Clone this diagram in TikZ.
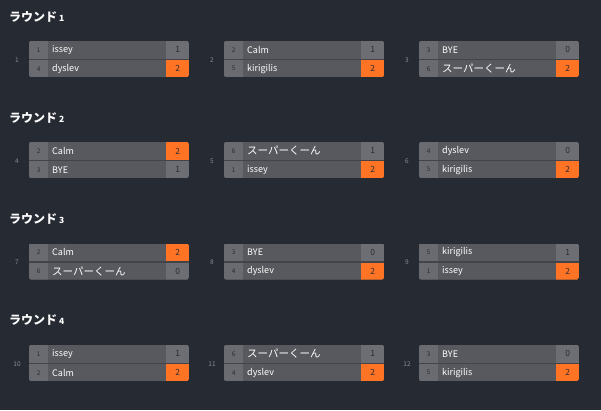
\documentclass[tikz,border=0pt]{standalone}
\usepackage{fontspec}
\usepackage{xcolor}
\setmainfont{Noto Sans CJK JP}

\definecolor{bgdark}{HTML}{262A33}
\definecolor{namegray}{HTML}{58595E}
\definecolor{seedgray}{HTML}{6A6B70}
\definecolor{scoregray}{HTML}{6D6E73}
\definecolor{rowline}{HTML}{43444A}
\definecolor{winorange}{HTML}{FF7324}
\definecolor{inkdark}{HTML}{2A2C33}
\definecolor{numgray}{HTML}{8A8C95}

\tikzset{
  cell/.style={anchor=north west, inner sep=0pt, minimum height=#1},
  seedcell/.style={cell=#1, fill=seedgray, minimum width=19pt, text=inkdark, font=\fontsize{6.5}{7}\selectfont},
  namecell/.style={cell=#1, fill=namegray, minimum width=118pt, text width=110pt, inner xsep=4pt, align=left, text=white, font=\fontsize{9}{10}\selectfont},
  scorecell/.style={cell=#1, minimum width=23pt, text=inkdark, font=\fontsize{8.5}{9}\selectfont},
  matchno/.style={text=numgray, font=\fontsize{6.5}{7}\selectfont},
  roundtitle/.style={anchor=west, inner sep=0pt, text=white, font=\bfseries\fontsize{12}{14}\selectfont}
}

\newcommand{\jp}[1]{{\fontsize{10.5}{12}\selectfont #1}}

% #1 match, #2 x, #3 y, #4-#6 upper seed/name/score, #7-#9 lower seed/name/score
\newcommand{\Match}[9]{%
  \ifnum#6>#9 \colorlet{upfill}{winorange}\colorlet{lowfill}{scoregray}%
  \else \colorlet{upfill}{scoregray}\colorlet{lowfill}{winorange}\fi
  \begin{scope}[shift={(#2,#3)}]
    \node[matchno] (m#1) at (-12,19) {#1};
    \begin{scope}
      \clip[rounded corners=2pt] (0,0) rectangle (160,36);
      \fill[rowline] (0,0) rectangle (160,36);
      \node[seedcell=17.5pt] (m#1s1) at (0,0) {#4};
      \node[namecell=17.5pt] (m#1n1) at (19,0) {#5};
      \node[scorecell=17.5pt, fill=upfill] (m#1p1) at (137,0) {#6};
      \node[seedcell=17pt] (m#1s2) at (0,19) {#7};
      \node[namecell=17pt] (m#1n2) at (19,19) {#8};
      \node[scorecell=17pt, fill=lowfill] (m#1p2) at (137,19) {#9};
    \end{scope}
  \end{scope}}

\begin{document}
\begin{tikzpicture}[x=1pt, y=-1pt]
  \fill[bgdark] (0,0) rectangle (601,410);
  \useasboundingbox (0,0) rectangle (601,410);

  % round 1
  \node[roundtitle] (r1) at (9,17) {ラウンド\,{\fontsize{8.5}{10}\selectfont 1}};
  \Match{1}{29}{41}{1}{issey}{1}{4}{dyslev}{2}
  \Match{2}{224}{41}{2}{Calm}{1}{5}{kirigilis}{2}
  \Match{3}{419}{41}{3}{BYE}{0}{6}{\jp{スーパーくーん}}{2}

  % round 2
  \node[roundtitle] (r2) at (9,118) {ラウンド\,{\fontsize{8.5}{10}\selectfont 2}};
  \Match{4}{29}{142}{2}{Calm}{2}{3}{BYE}{1}
  \Match{5}{224}{142}{6}{\jp{スーパーくーん}}{1}{1}{issey}{2}
  \Match{6}{419}{142}{4}{dyslev}{0}{5}{kirigilis}{2}

  % round 3
  \node[roundtitle] (r3) at (9,219) {ラウンド\,{\fontsize{8.5}{10}\selectfont 3}};
  \Match{7}{29}{243.5}{2}{Calm}{2}{6}{\jp{スーパーくーん}}{0}
  \Match{8}{224}{243.5}{3}{BYE}{0}{4}{dyslev}{2}
  \Match{9}{419}{243.5}{5}{kirigilis}{1}{1}{issey}{2}

  % round 4
  \node[roundtitle] (r4) at (9,320) {ラウンド\,{\fontsize{8.5}{10}\selectfont 4}};
  \Match{10}{29}{345}{1}{issey}{1}{2}{Calm}{2}
  \Match{11}{224}{345}{6}{\jp{スーパーくーん}}{1}{4}{dyslev}{2}
  \Match{12}{419}{345}{3}{BYE}{0}{5}{kirigilis}{2}
\end{tikzpicture}
\end{document}
